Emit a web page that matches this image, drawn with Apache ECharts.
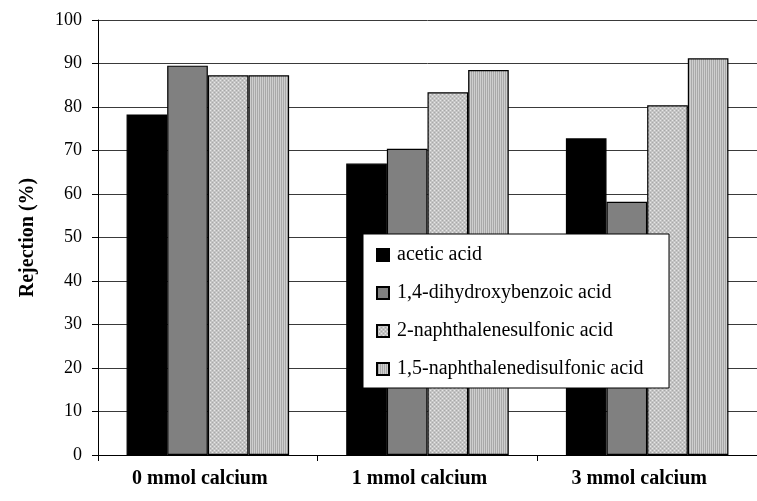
<!DOCTYPE html>
<html>
<head>
<meta charset="utf-8">
<script src="https://cdn.jsdelivr.net/npm/echarts@6/dist/echarts.min.js"></script>
<style>
  html, body { margin: 0; padding: 0; background: #fff; }
  #chart { width: 757px; height: 501px; }
</style>
</head>
<body>
<div id="chart"></div>
<script>
// Rejection of organic acids at different calcium concentrations
const categories = ['0 mmol calcium', '1 mmol calcium', '3 mmol calcium'];
const seriesNames = [
  'acetic acid',
  '1,4-dihydroxybenzoic acid',
  '2-naphthalenesulfonic acid',
  '1,5-naphthalenedisulfonic acid'
];
const aceticAcid = [78.3, 67.0, 72.8];
const dihydroxybenzoic = [89.5, 70.4, 58.2];
const naphthalenesulfonic = [87.3, 83.4, 80.4];
const naphthalenedisulfonic = [87.3, 88.5, 91.2];
const yTicks = [0, 10, 20, 30, 40, 50, 60, 70, 80, 90, 100];

// Small tiled fills for the patterned bars
function makePattern(draw, w, h) {
  const c = document.createElement('canvas');
  c.width = w; c.height = h;
  const ctx = c.getContext('2d');
  draw(ctx);
  return c;
}
const dotted = makePattern(function (ctx) {
  ctx.fillStyle = '#c4c4c4';
  ctx.fillRect(0, 0, 4, 4);
  ctx.fillStyle = '#e6e6e6';
  ctx.fillRect(0, 0, 1, 1);
  ctx.fillRect(2, 2, 1, 1);
  ctx.fillStyle = '#a8a8a8';
  ctx.fillRect(2, 0, 1, 1);
  ctx.fillRect(0, 2, 1, 1);
}, 4, 4);
const striped = makePattern(function (ctx) {
  ctx.fillStyle = '#cfcfcf';
  ctx.fillRect(0, 0, 2, 2);
  ctx.fillStyle = '#a9a9a9';
  ctx.fillRect(1, 0, 1, 2);
}, 2, 2);

const fills = [
  '#000000',
  '#808080',
  { image: dotted, repeat: 'repeat' },
  { image: striped, repeat: 'repeat' }
];
const values = [aceticAcid, dihydroxybenzoic, naphthalenesulfonic, naphthalenedisulfonic];

const serif = '"Liberation Serif", "Times New Roman", serif';

const chart = echarts.init(document.getElementById('chart'), null, { renderer: 'canvas' });
chart.setOption({
  animation: false,
  backgroundColor: '#ffffff',
  grid: { left: 98, top: 20, width: 666, height: 435, containLabel: false },
  legend: {
    orient: 'vertical',
    left: 363,
    top: 234,
    padding: [11, 4, 9, 13],
    itemGap: 18,
    itemWidth: 12,
    itemHeight: 12,
    backgroundColor: '#ffffff',
    borderColor: '#000000',
    borderWidth: 1,
    icon: 'rect',
    textStyle: {
      fontFamily: serif, fontSize: 20, color: '#000', lineHeight: 20,
      width: 268, padding: [0, 0, 0, 3]
    },
    data: seriesNames
  },
  xAxis: {
    type: 'category',
    data: categories,
    axisLine: { lineStyle: { color: '#000', width: 1 } },
    axisTick: { show: true, length: 6, lineStyle: { color: '#000' } },
    axisLabel: {
      fontFamily: serif, fontSize: 20, fontWeight: 'bold', color: '#000', margin: 14,
      padding: [0, 16, 0, 0]
    }
  },
  yAxis: {
    type: 'value',
    min: 0,
    max: 100,
    interval: 10,
    name: 'Rejection (%)',
    nameLocation: 'middle',
    nameGap: 60,
    nameRotate: 90,
    nameTextStyle: { fontFamily: serif, fontSize: 20, fontWeight: 'bold', color: '#000' },
    axisLine: { show: true, lineStyle: { color: '#000', width: 1 } },
    axisTick: { show: true, length: 6, lineStyle: { color: '#000' } },
    axisLabel: {
      fontFamily: serif, fontSize: 18, color: '#000', margin: 16,
      formatter: function (v) { return yTicks.indexOf(v) >= 0 ? String(v) : ''; }
    },
    splitLine: { show: true, lineStyle: { color: '#3a3a3a', width: 1 } }
  },
  series: seriesNames.map(function (name, i) {
    return {
      name: name,
      type: 'bar',
      data: values[i],
      barGap: '0%',
      barCategoryGap: '26%',
      itemStyle: { color: fills[i], borderColor: '#000', borderWidth: 1.2 }
    };
  })
});
</script>
</body>
</html>
